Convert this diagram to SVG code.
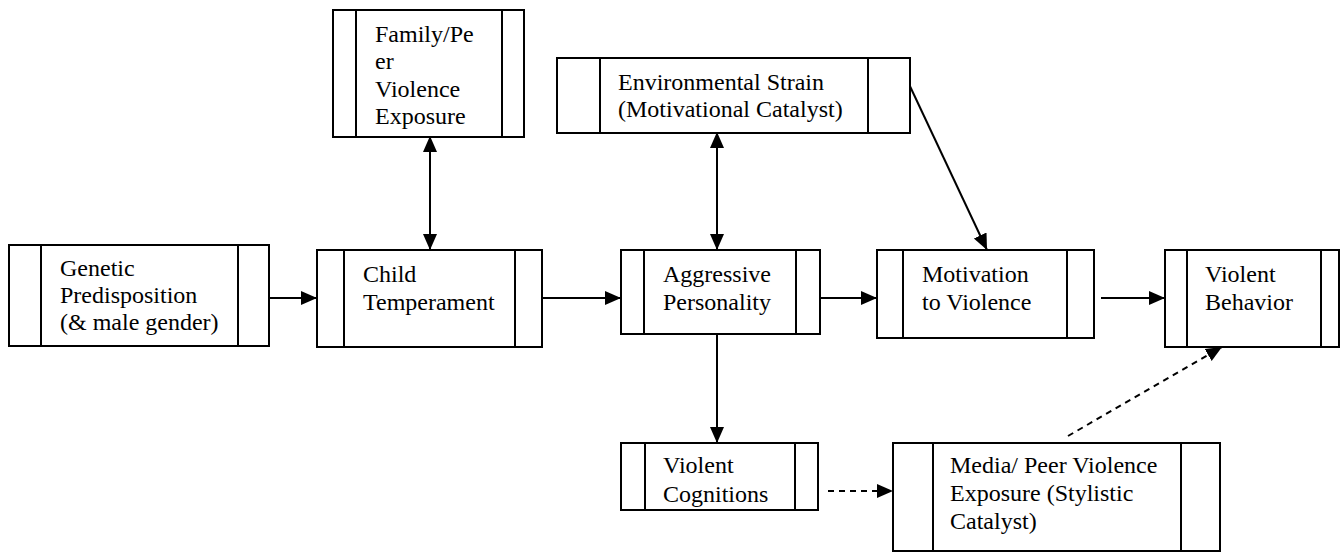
<svg xmlns="http://www.w3.org/2000/svg" width="1342" height="554" viewBox="0 0 1342 554">
<style>
.box{fill:#fff;stroke:#000;stroke-width:2}
.div{stroke:#000;stroke-width:2}
.lbl{font-family:'Liberation Serif','DejaVu Serif','Times New Roman',serif;font-size:24px;fill:#000}
.c{stroke:#000;stroke-width:2;fill:none}
.d{stroke-dasharray:6 5}
</style>
<defs>
<marker id="ah" markerUnits="userSpaceOnUse" markerWidth="18" markerHeight="16" refX="16" refY="8" orient="auto-start-reverse" viewBox="0 0 18 16"><path d="M0,1 L16,8 L0,15 Z" fill="#000"/></marker>
</defs>
<rect width="1342" height="554" fill="#fff"/>
<g id="connectors">
<path class="c" d="M269,298 H317" marker-end="url(#ah)"/>
<path class="c" d="M541,298 H621" marker-end="url(#ah)"/>
<path class="c" d="M812,298 H877" marker-end="url(#ah)"/>
<path class="c" d="M1101,298 H1165" marker-end="url(#ah)"/>
<path class="c" d="M430,136 V250" marker-start="url(#ah)" marker-end="url(#ah)"/>
<path class="c" d="M717,132 V250" marker-start="url(#ah)" marker-end="url(#ah)"/>
<path class="c" d="M908,82 L987,250" marker-end="url(#ah)"/>
<path class="c" d="M717,323 V443" marker-end="url(#ah)"/>
<path class="c d" d="M828,491 H893" marker-end="url(#ah)"/>
<path class="c d" d="M1068,436 L1222,347" marker-end="url(#ah)"/>
</g>
<g id="genetic">
<rect class="box" x="9" y="245" width="260" height="101"/>
<line class="div" x1="41" y1="245" x2="41" y2="346"/>
<line class="div" x1="238" y1="245" x2="238" y2="346"/>
<text class="lbl" font-family="Liberation Serif, DejaVu Serif, serif"><tspan x="60" y="276">Genetic</tspan><tspan x="60" y="303">Predisposition</tspan><tspan x="60" y="330">(&amp; male gender)</tspan></text>
</g>
<g id="family">
<rect class="box" x="333" y="10" width="191" height="127"/>
<line class="div" x1="356" y1="10" x2="356" y2="137"/>
<line class="div" x1="502" y1="10" x2="502" y2="137"/>
<text class="lbl" font-family="Liberation Serif, DejaVu Serif, serif"><tspan x="375" y="42">Family/Pe</tspan><tspan x="375" y="69">er</tspan><tspan x="375" y="97">Violence</tspan><tspan x="375" y="124">Exposure</tspan></text>
</g>
<g id="environmental">
<rect class="box" x="557" y="58" width="353" height="75"/>
<line class="div" x1="600" y1="58" x2="600" y2="133"/>
<line class="div" x1="868" y1="58" x2="868" y2="133"/>
<text class="lbl" font-family="Liberation Serif, DejaVu Serif, serif"><tspan x="618" y="90">Environmental Strain</tspan><tspan x="618" y="117">(Motivational Catalyst)</tspan></text>
</g>
<g id="child">
<rect class="box" x="317" y="250" width="225" height="97"/>
<line class="div" x1="344" y1="250" x2="344" y2="347"/>
<line class="div" x1="515" y1="250" x2="515" y2="347"/>
<text class="lbl" font-family="Liberation Serif, DejaVu Serif, serif"><tspan x="363" y="282">Child</tspan><tspan x="363" y="310">Temperament</tspan></text>
</g>
<g id="aggressive">
<rect class="box" x="621" y="250" width="199" height="84"/>
<line class="div" x1="644" y1="250" x2="644" y2="334"/>
<line class="div" x1="796" y1="250" x2="796" y2="334"/>
<text class="lbl" font-family="Liberation Serif, DejaVu Serif, serif"><tspan x="663" y="282">Aggressive</tspan><tspan x="663" y="310">Personality</tspan></text>
</g>
<g id="motivation">
<rect class="box" x="877" y="250" width="217" height="88"/>
<line class="div" x1="903" y1="250" x2="903" y2="338"/>
<line class="div" x1="1067" y1="250" x2="1067" y2="338"/>
<text class="lbl" font-family="Liberation Serif, DejaVu Serif, serif"><tspan x="922" y="282">Motivation</tspan><tspan x="922" y="310">to Violence</tspan></text>
</g>
<g id="behavior">
<rect class="box" x="1165" y="250" width="174" height="97"/>
<line class="div" x1="1187" y1="250" x2="1187" y2="347"/>
<line class="div" x1="1321" y1="250" x2="1321" y2="347"/>
<text class="lbl" font-family="Liberation Serif, DejaVu Serif, serif"><tspan x="1205" y="282">Violent</tspan><tspan x="1205" y="310">Behavior</tspan></text>
</g>
<g id="cognitions">
<rect class="box" x="621" y="443" width="197" height="67"/>
<line class="div" x1="645" y1="443" x2="645" y2="510"/>
<line class="div" x1="795" y1="443" x2="795" y2="510"/>
<text class="lbl" font-family="Liberation Serif, DejaVu Serif, serif"><tspan x="663" y="473">Violent</tspan><tspan x="663" y="502">Cognitions</tspan></text>
</g>
<g id="media">
<rect class="box" x="893" y="443" width="327" height="108"/>
<line class="div" x1="933" y1="443" x2="933" y2="551"/>
<line class="div" x1="1181" y1="443" x2="1181" y2="551"/>
<text class="lbl" font-family="Liberation Serif, DejaVu Serif, serif"><tspan x="950" y="473">Media/ Peer Violence</tspan><tspan x="950" y="501">Exposure (Stylistic</tspan><tspan x="950" y="529">Catalyst)</tspan></text>
</g>
</svg>
